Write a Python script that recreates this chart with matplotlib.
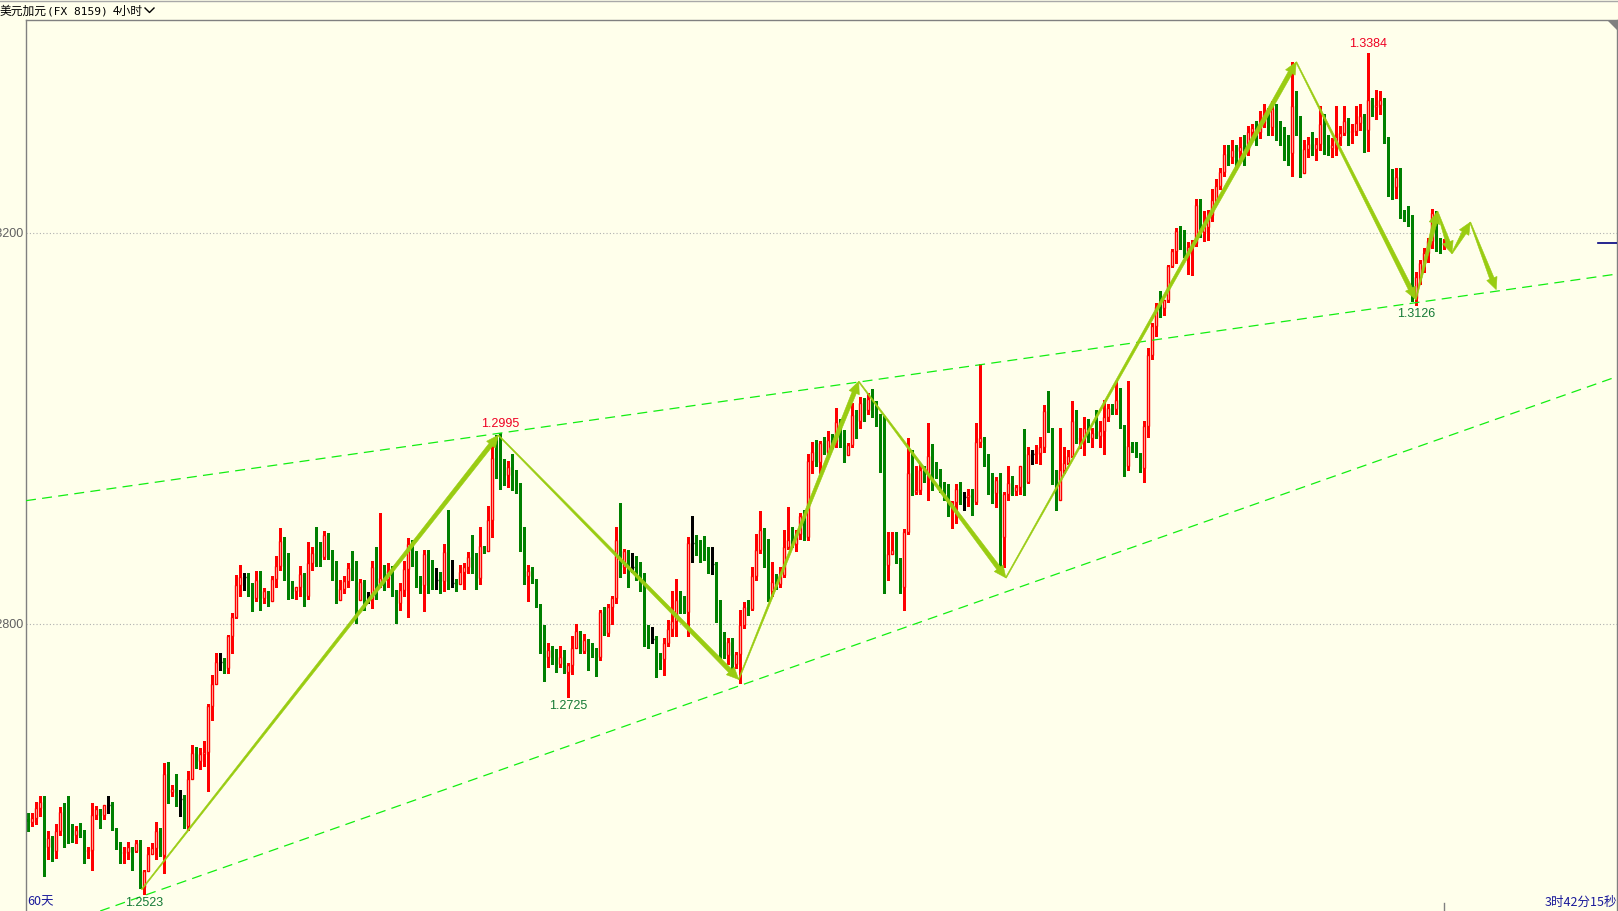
import numpy as np
import matplotlib
matplotlib.use('Agg')
import matplotlib.pyplot as plt
import matplotlib.transforms as mtransforms
from matplotlib.patches import Polygon
from matplotlib.lines import Line2D

# ---- data: USD/CAD 4h candles ----
first_open = 1.2600

closes = [
    1.2597, 1.2601, 1.2611, 1.2618, 1.2572, 1.2581, 1.2567, 1.2588, 1.2607, 1.2606,
    1.2587, 1.2584, 1.2589, 1.2586, 1.2567, 1.2568, 1.2604, 1.2610, 1.2604, 1.2614,
    1.2614, 1.2590, 1.2573, 1.2565, 1.2566, 1.2572, 1.2567, 1.2576, 1.2531, 1.2547,
    1.2564, 1.2570, 1.2588, 1.2563, 1.2646, 1.2628, 1.2631, 1.2621, 1.2621, 1.2593,
    1.2641, 1.2668, 1.2660, 1.2667, 1.2669, 1.2716, 1.2738, 1.2761, 1.2761, 1.2755,
    1.2787, 1.2807, 1.2840, 1.2848, 1.2848, 1.2836, 1.2826, 1.2845, 1.2826, 1.2834,
    1.2823, 1.2846, 1.2859, 1.2885, 1.2865, 1.2844, 1.2834, 1.2838, 1.2851, 1.2828,
    1.2862, 1.2872, 1.2871, 1.2868, 1.2891, 1.2868, 1.2855, 1.2824, 1.2836, 1.2844,
    1.2857, 1.2854, 1.2824, 1.2843, 1.2825, 1.2825, 1.2858, 1.2840, 1.2847, 1.2846,
    1.2854, 1.2829, 1.2821, 1.2835, 1.2856, 1.2882, 1.2864, 1.2846, 1.2840, 1.2871,
    1.2846, 1.2845, 1.2845, 1.2844, 1.2873, 1.2842, 1.2842, 1.2841, 1.2853, 1.2858,
    1.2868, 1.2867, 1.2847, 1.2880, 1.2874, 1.2906, 1.2970, 1.2964, 1.2957, 1.2952,
    1.2960, 1.2952, 1.2936, 1.2875, 1.2849, 1.2854, 1.2844, 1.2819, 1.2783, 1.2766,
    1.2773, 1.2767, 1.2759, 1.2766, 1.2751, 1.2758, 1.2775, 1.2793, 1.2772, 1.2783,
    1.2774, 1.2770, 1.2766, 1.2812, 1.2791, 1.2817, 1.2826, 1.2886, 1.2858, 1.2874,
    1.2858, 1.2858, 1.2853, 1.2851, 1.2797, 1.2784, 1.2784, 1.2765, 1.2764, 1.2780,
    1.2795, 1.2803, 1.2824, 1.2821, 1.2812, 1.2883, 1.2883, 1.2882, 1.2872, 1.2870,
    1.2861, 1.2861, 1.2821, 1.2786, 1.2768, 1.2781, 1.2759, 1.2769, 1.2799, 1.2817,
    1.2815, 1.2849, 1.2875, 1.2896, 1.2884, 1.2834, 1.2843, 1.2841, 1.2850, 1.2879,
    1.2886, 1.2882, 1.2892, 1.2910, 1.2889, 1.2967, 1.2976, 1.2966, 1.2985, 1.2976,
    1.2988, 1.2987, 1.3007, 1.2990, 1.2973, 1.2983, 1.3014, 1.3008, 1.3026, 1.3019,
    1.3030, 1.3024, 1.3002, 1.2977, 1.2860, 1.2871, 1.2875, 1.2864, 1.2838, 1.2894,
    1.2954, 1.2935, 1.2937, 1.2957, 1.2953, 1.2972, 1.2957, 1.2950, 1.2945, 1.2937,
    1.2919, 1.2925, 1.2938, 1.2930, 1.2930, 1.2932, 1.2925, 1.2986, 1.2990, 1.2968,
    1.2943, 1.2934, 1.2947, 1.2889, 1.2933, 1.2944, 1.2936, 1.2940, 1.2961, 1.2945,
    1.2974, 1.2974, 1.2975, 1.2981, 1.3018, 1.2998, 1.2945, 1.2927, 1.2957, 1.2965,
    1.2972, 1.3008, 1.2989, 1.2990, 1.3000, 1.2990, 1.2995, 1.2992, 1.2997, 1.3012,
    1.3021, 1.3020, 1.3029, 1.3002, 1.2961, 1.2982, 1.2978, 1.2975, 1.2959, 1.3002,
    1.3075, 1.3105, 1.3124, 1.3123, 1.3131, 1.3166, 1.3182, 1.3202, 1.3201, 1.3177,
    1.3186, 1.3190, 1.3229, 1.3201, 1.3206, 1.3218, 1.3234, 1.3248, 1.3262, 1.3281,
    1.3278, 1.3285, 1.3284, 1.3288, 1.3286, 1.3303, 1.3307, 1.3303, 1.3313, 1.3322,
    1.3308, 1.3327, 1.3310, 1.3300, 1.3295, 1.3282, 1.3330, 1.3317, 1.3261, 1.3286,
    1.3291, 1.3286, 1.3291, 1.3312, 1.3295, 1.3287, 1.3290, 1.3298, 1.3302, 1.3315,
    1.3303, 1.3304, 1.3313, 1.3320, 1.3305, 1.3336, 1.3329, 1.3331, 1.3336, 1.3297,
    1.3252, 1.3247, 1.3257, 1.3221, 1.3218, 1.3217, 1.3133, 1.3155, 1.3169, 1.3179,
    1.3192, 1.3220, 1.3189, 1.3188, 1.3190,
]

highs = [
    1.2606, 1.2606, 1.2618, 1.2624, 1.2624, 1.2588, 1.2583, 1.2595, 1.2612, 1.2617,
    1.2624, 1.2595, 1.2593, 1.2596, 1.2589, 1.2572, 1.2617, 1.2613, 1.2610, 1.2615,
    1.2624, 1.2618, 1.2591, 1.2577, 1.2572, 1.2577, 1.2572, 1.2579, 1.2579, 1.2548,
    1.2571, 1.2576, 1.2597, 1.2591, 1.2658, 1.2659, 1.2635, 1.2646, 1.2630, 1.2625,
    1.2649, 1.2676, 1.2674, 1.2673, 1.2680, 1.2718, 1.2748, 1.2770, 1.2770, 1.2765,
    1.2789, 1.2811, 1.2850, 1.2860, 1.2852, 1.2852, 1.2842, 1.2854, 1.2854, 1.2837,
    1.2832, 1.2849, 1.2869, 1.2898, 1.2889, 1.2872, 1.2843, 1.2838, 1.2859, 1.2852,
    1.2884, 1.2879, 1.2899, 1.2884, 1.2895, 1.2893, 1.2876, 1.2864, 1.2845, 1.2849,
    1.2862, 1.2874, 1.2864, 1.2846, 1.2845, 1.2833, 1.2864, 1.2879, 1.2913, 1.2860,
    1.2862, 1.2859, 1.2835, 1.2842, 1.2864, 1.2888, 1.2886, 1.2874, 1.2849, 1.2876,
    1.2875, 1.2865, 1.2857, 1.2853, 1.2882, 1.2916, 1.2865, 1.2846, 1.2860, 1.2862,
    1.2873, 1.2891, 1.2872, 1.2899, 1.2877, 1.2921, 1.2983, 1.2993, 1.2995, 1.2969,
    1.2967, 1.2974, 1.2957, 1.2944, 1.2899, 1.2860, 1.2858, 1.2846, 1.2820, 1.2799,
    1.2780, 1.2777, 1.2774, 1.2777, 1.2773, 1.2760, 1.2787, 1.2800, 1.2792, 1.2790,
    1.2784, 1.2780, 1.2775, 1.2814, 1.2817, 1.2820, 1.2828, 1.2899, 1.2924, 1.2877,
    1.2875, 1.2872, 1.2869, 1.2863, 1.2852, 1.2799, 1.2797, 1.2787, 1.2770, 1.2785,
    1.2804, 1.2834, 1.2846, 1.2834, 1.2828, 1.2889, 1.2910, 1.2891, 1.2886, 1.2890,
    1.2879, 1.2879, 1.2863, 1.2824, 1.2792, 1.2785, 1.2785, 1.2771, 1.2814, 1.2822,
    1.2824, 1.2858, 1.2892, 1.2915, 1.2898, 1.2887, 1.2863, 1.2851, 1.2858, 1.2896,
    1.2920, 1.2899, 1.2896, 1.2913, 1.2916, 1.2974, 1.2986, 1.2988, 1.2987, 1.2991,
    1.2997, 1.2994, 1.3021, 1.3010, 1.2998, 1.2985, 1.3026, 1.3019, 1.3032, 1.3031,
    1.3036, 1.3040, 1.3028, 1.3015, 1.3013, 1.2894, 1.2894, 1.2894, 1.2867, 1.2897,
    1.2990, 1.2978, 1.2961, 1.2964, 1.2961, 1.3005, 1.2984, 1.2966, 1.2958, 1.2945,
    1.2943, 1.2926, 1.2943, 1.2945, 1.2935, 1.2938, 1.2938, 1.3005, 1.3066, 1.2991,
    1.2974, 1.2954, 1.2950, 1.2954, 1.2935, 1.2962, 1.2951, 1.2942, 1.2962, 1.2999,
    1.2981, 1.2978, 1.2983, 1.2991, 1.3024, 1.3038, 1.3000, 1.2957, 1.3000, 1.2981,
    1.2978, 1.3028, 1.3019, 1.3000, 1.3012, 1.3010, 1.3000, 1.3019, 1.3008, 1.3029,
    1.3025, 1.3025, 1.3048, 1.3041, 1.3003, 1.3049, 1.2986, 1.2986, 1.2975, 1.3008,
    1.3082, 1.3108, 1.3128, 1.3141, 1.3131, 1.3167, 1.3184, 1.3205, 1.3207, 1.3203,
    1.3191, 1.3193, 1.3235, 1.3235, 1.3223, 1.3224, 1.3245, 1.3255, 1.3267, 1.3290,
    1.3290, 1.3295, 1.3290, 1.3298, 1.3300, 1.3310, 1.3312, 1.3315, 1.3325, 1.3332,
    1.3328, 1.3335, 1.3332, 1.3315, 1.3308, 1.3300, 1.3375, 1.3345, 1.3320, 1.3295,
    1.3298, 1.3303, 1.3297, 1.3330, 1.3322, 1.3300, 1.3297, 1.3330, 1.3310, 1.3330,
    1.3318, 1.3312, 1.3330, 1.3332, 1.3322, 1.3384, 1.3338, 1.3346, 1.3345, 1.3338,
    1.3298, 1.3265, 1.3267, 1.3267, 1.3224, 1.3228, 1.3218, 1.3160, 1.3172, 1.3185,
    1.3195, 1.3225, 1.3222, 1.3195, 1.3194,
]

lows = [
    1.2588, 1.2593, 1.2595, 1.2603, 1.2542, 1.2559, 1.2557, 1.2560, 1.2584, 1.2571,
    1.2576, 1.2577, 1.2576, 1.2582, 1.2555, 1.2560, 1.2548, 1.2600, 1.2591, 1.2600,
    1.2606, 1.2589, 1.2569, 1.2555, 1.2555, 1.2559, 1.2548, 1.2566, 1.2530, 1.2523,
    1.2548, 1.2564, 1.2559, 1.2562, 1.2545, 1.2617, 1.2624, 1.2613, 1.2603, 1.2591,
    1.2589, 1.2642, 1.2652, 1.2651, 1.2654, 1.2629, 1.2702, 1.2738, 1.2753, 1.2750,
    1.2750, 1.2770, 1.2806, 1.2828, 1.2835, 1.2828, 1.2813, 1.2823, 1.2814, 1.2821,
    1.2818, 1.2823, 1.2838, 1.2855, 1.2845, 1.2825, 1.2826, 1.2825, 1.2828, 1.2818,
    1.2825, 1.2855, 1.2859, 1.2859, 1.2866, 1.2866, 1.2845, 1.2821, 1.2830, 1.2832,
    1.2838, 1.2845, 1.2801, 1.2833, 1.2814, 1.2821, 1.2816, 1.2825, 1.2838, 1.2835,
    1.2838, 1.2828, 1.2801, 1.2814, 1.2828, 1.2807, 1.2859, 1.2838, 1.2832, 1.2813,
    1.2831, 1.2836, 1.2836, 1.2831, 1.2834, 1.2836, 1.2838, 1.2834, 1.2841, 1.2836,
    1.2852, 1.2852, 1.2836, 1.2841, 1.2872, 1.2874, 1.2889, 1.2949, 1.2938, 1.2942,
    1.2940, 1.2937, 1.2934, 1.2874, 1.2841, 1.2823, 1.2842, 1.2817, 1.2770, 1.2741,
    1.2756, 1.2759, 1.2751, 1.2756, 1.2750, 1.2725, 1.2749, 1.2775, 1.2770, 1.2770,
    1.2753, 1.2766, 1.2747, 1.2763, 1.2788, 1.2787, 1.2800, 1.2821, 1.2848, 1.2852,
    1.2838, 1.2853, 1.2845, 1.2834, 1.2777, 1.2775, 1.2780, 1.2746, 1.2754, 1.2748,
    1.2777, 1.2787, 1.2787, 1.2811, 1.2811, 1.2787, 1.2863, 1.2870, 1.2863, 1.2865,
    1.2852, 1.2851, 1.2802, 1.2763, 1.2765, 1.2759, 1.2749, 1.2755, 1.2739, 1.2796,
    1.2809, 1.2814, 1.2845, 1.2872, 1.2858, 1.2823, 1.2828, 1.2836, 1.2838, 1.2848,
    1.2877, 1.2879, 1.2874, 1.2887, 1.2886, 1.2886, 1.2954, 1.2961, 1.2954, 1.2974,
    1.2973, 1.2980, 1.2981, 1.2981, 1.2966, 1.2973, 1.2981, 1.2990, 1.3000, 1.3008,
    1.3015, 1.3012, 1.3002, 1.2955, 1.2831, 1.2845, 1.2872, 1.2862, 1.2831, 1.2814,
    1.2892, 1.2932, 1.2933, 1.2933, 1.2945, 1.2927, 1.2937, 1.2949, 1.2935, 1.2927,
    1.2910, 1.2898, 1.2903, 1.2923, 1.2916, 1.2921, 1.2911, 1.2923, 1.2981, 1.2961,
    1.2933, 1.2924, 1.2920, 1.2858, 1.2858, 1.2927, 1.2932, 1.2932, 1.2933, 1.2932,
    1.2944, 1.2964, 1.2965, 1.2964, 1.2976, 1.2996, 1.2943, 1.2916, 1.2927, 1.2954,
    1.2964, 1.2971, 1.2985, 1.2980, 1.2973, 1.2986, 1.2981, 1.2990, 1.2981, 1.2974,
    1.3008, 1.3015, 1.3015, 1.3000, 1.2951, 1.2957, 1.2976, 1.2971, 1.2955, 1.2945,
    1.2991, 1.3071, 1.3095, 1.3114, 1.3116, 1.3129, 1.3165, 1.3169, 1.3184, 1.3175,
    1.3158, 1.3157, 1.3187, 1.3196, 1.3192, 1.3193, 1.3212, 1.3230, 1.3245, 1.3258,
    1.3270, 1.3272, 1.3265, 1.3275, 1.3270, 1.3280, 1.3295, 1.3290, 1.3297, 1.3308,
    1.3300, 1.3300, 1.3295, 1.3290, 1.3275, 1.3270, 1.3258, 1.3300, 1.3257, 1.3270,
    1.3278, 1.3280, 1.3275, 1.3285, 1.3281, 1.3280, 1.3278, 1.3280, 1.3290, 1.3300,
    1.3290, 1.3292, 1.3300, 1.3305, 1.3283, 1.3284, 1.3320, 1.3317, 1.3322, 1.3292,
    1.3238, 1.3235, 1.3236, 1.3215, 1.3212, 1.3207, 1.3130, 1.3126, 1.3148, 1.3160,
    1.3170, 1.3185, 1.3182, 1.3180, 1.3184,
]

# zigzag wave drawn on the chart (candle index, price)
zz_x = [28.3, 117.5, 177.6, 207.6, 244.4, 317.0, 346.9, 352.3, 355.9, 360.5, 367.0]
zz_y = [1.2528, 1.2993, 1.2743, 1.3048, 1.2847, 1.3375, 1.3132, 1.3222, 1.3179, 1.3211, 1.3142]

# channel lines (candle index, price)
upper_x = [-0.6, 397.2]
upper_y = [1.2926, 1.3158]
lower_x = [17.95, 397.2]
lower_y = [1.2506, 1.3053]

high_marks = [118, 335]
low_marks = [29, 135, 347]

y_ticks = [1.2800, 1.3200]
title_cn = '美元加元'
title_code = '(FX 8159)'
period = '4小时'
range_txt = '60天'
timer_txt = '3时42分15秒'

BG = '#ffffeb'
RED = '#ff0000'
GREEN = '#008000'
ZZ = '#99cc11'
LIME = '#11ee11'
CJK = ['Noto Sans CJK SC', 'DejaVu Sans']
NUM = 'Liberation Sans'


def taper_arrow(ax, p_from, p_to, color, w0=1.0, w1=4.5, hw=11.0, hl=12.0):
    p0 = ax.transData.transform(p_from)
    p1 = ax.transData.transform(p_to)
    d = p1 - p0
    u = d / np.hypot(*d)
    nrm = np.array([-u[1], u[0]])
    base = p1 - u * hl
    pts = [p0 + nrm * w0 / 2, base + nrm * w1 / 2, base + nrm * hw / 2, p1,
           base - nrm * hw / 2, base - nrm * w1 / 2, p0 - nrm * w0 / 2]
    pts = ax.transData.inverted().transform(np.array(pts))
    ax.add_patch(Polygon(pts, closed=True, fc=color, ec=color, lw=0.4, zorder=5))


def main():
    W, H = 1618, 911
    fig = plt.figure(figsize=(W / 100, H / 100), dpi=100)
    fig.patch.set_facecolor(BG)
    ax = fig.add_axes([26 / W, 0, 1591 / W, 891 / H])
    ax.set_facecolor(BG)
    ax.set_xlim(-0.6, 397.2)
    ax.set_ylim(1.2506, 1.3418)
    ax.set_autoscale_on(False)

    c = np.array(closes)
    hi = np.array(highs)
    lo = np.array(lows)
    o = np.r_[first_open, c[:-1]]
    hi = np.maximum(hi, np.maximum(o, c))
    lo = np.minimum(lo, np.minimum(o, c))
    x = np.arange(len(c))
    up = c > o
    dn = c < o
    eq = ~up & ~dn

    wick_col = np.where(up, RED, np.where(dn, GREEN, 'black'))
    ax.vlines(x, lo, hi, colors=wick_col, lw=1, antialiased=False, zorder=2)
    ax.bar(x[up], (c - o)[up], bottom=o[up], width=0.5, facecolor=BG,
           edgecolor=RED, lw=1, zorder=3)
    ax.bar(x[dn], np.maximum((o - c)[dn], 0.00008), bottom=c[dn], width=0.75,
           color=GREEN, lw=0, zorder=3)
    ax.hlines(c[eq], x[eq] - 0.4, x[eq] + 0.4, colors='black', lw=1, zorder=3)

    # grid lines and left labels (clipped by the window edge, as on screen)
    for yv in y_ticks:
        ax.axhline(yv, color='#b0b0b0', lw=0.8, ls=(0, (1, 2)), zorder=1)
    ax.set_yticks(y_ticks)
    ax.set_yticklabels([f'{v:.4f}' for v in y_ticks], color='#606060',
                       fontsize=9, family=NUM)
    ax.tick_params(axis='y', length=0, pad=2)
    ax.set_xticks([])

    ax.spines['bottom'].set_visible(False)
    for side in ['left', 'right', 'top']:
        ax.spines[side].set_color('#808080')
        ax.spines[side].set_linewidth(1)

    # channel
    ax.plot(upper_x, upper_y, color=LIME, lw=0.9, ls=(0, (8, 5)), zorder=4)
    ax.plot(lower_x, lower_y, color=LIME, lw=0.9, ls=(0, (8, 5)), zorder=4)

    # zigzag arrows
    for k in range(len(zz_x) - 1):
        taper_arrow(ax, (zz_x[k], zz_y[k]), (zz_x[k + 1], zz_y[k + 1]), ZZ)

    # extreme labels
    for i in high_marks:
        ax.annotate(f'{hi[i]:.4f}', (i, hi[i]), xytext=(0, 6.5),
                    textcoords='offset points', ha='center', va='center',
                    color='#ee0022', fontsize=9, family=NUM, zorder=6)
    for i in low_marks:
        ax.annotate(f'{lo[i]:.4f}', (i, lo[i]), xytext=(0, -6.5),
                    textcoords='offset points', ha='center', va='center',
                    color='#157a35', fontsize=9, family=NUM, zorder=6)

    # current price marker at right edge and bar marker at bottom
    ax.axhline(c[-1], xmin=0.988, xmax=1.0, color='#000080', lw=1.2, zorder=6)
    trans = mtransforms.blended_transform_factory(ax.transData, ax.transAxes)
    ax.plot([x[-1], x[-1]], [0, 0.009], transform=trans, color='#808080',
            lw=1, clip_on=False)

    # header
    fig.add_artist(Line2D([0, 1], [1 - 0.5 / H] * 2, color='#a8a8a8', lw=1))
    fig.text(0, 1 - 11 / H, title_cn, ha='left', va='center', fontsize=8.5,
             family=CJK, color='black')
    fig.text(47 / W, 1 - 11 / H, title_code, ha='left', va='center', fontsize=8,
             family='DejaVu Sans Mono', color='black')
    fig.text(113 / W, 1 - 11 / H, period, ha='left', va='center', fontsize=8.5,
             family=CJK, color='black')
    fig.add_artist(Line2D(np.array([145, 149.5, 154]) / W,
                          1 - np.array([8, 12.5, 8]) / H, color='black', lw=1))
    fig.add_artist(Polygon([[1607 / W, 1 - 20 / H], [1617 / W, 1 - 20 / H],
                            [1617 / W, 1 - 30 / H]], closed=True,
                           transform=fig.transFigure, fc='#808080', ec='none'))

    # footer texts
    fig.text(27 / W, 9 / H, range_txt, ha='left', va='center', fontsize=9,
             family=CJK, color='#1a1a9a')
    fig.text(1617 / W, 9 / H, timer_txt, ha='right', va='center', fontsize=9,
             family=CJK, color='#1a1a9a')

    fig.savefig('out.png', dpi=100, facecolor=BG)
    plt.close(fig)


if __name__ == '__main__':
    main()
